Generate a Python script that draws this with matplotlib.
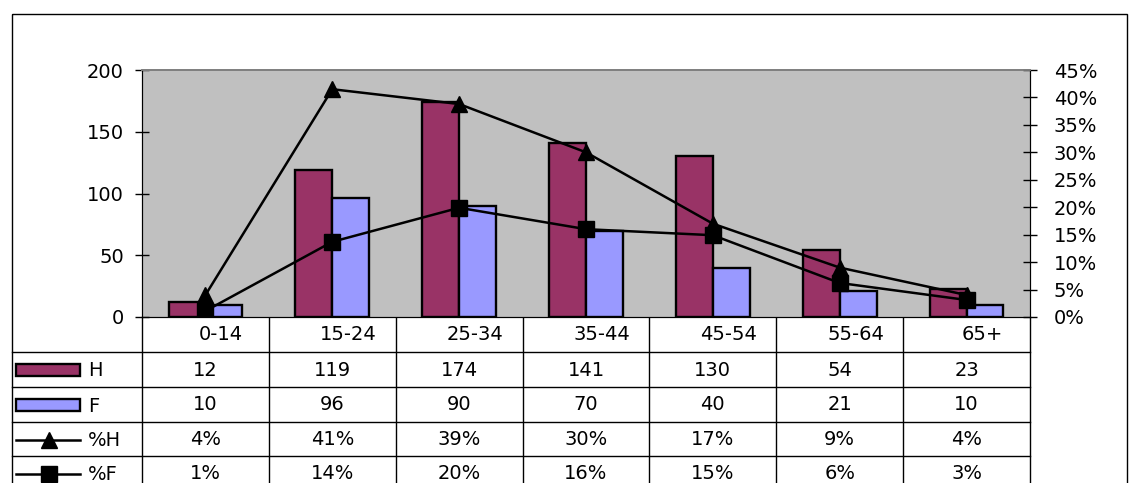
import numpy as np
import matplotlib.pyplot as plt
import matplotlib.transforms as mtransforms
from matplotlib.patches import Rectangle
from matplotlib.lines import Line2D

plt.rcParams['font.family'] = ['DejaVu Sans']

categories = ['0-14', '15-24', '25-34', '35-44', '45-54', '55-64', '65+']
h_counts = [12, 119, 174, 141, 130, 54, 23]
f_counts = [10, 96, 90, 70, 40, 21, 10]
h_pct = [0.04, 0.415, 0.388, 0.30, 0.17, 0.09, 0.04]
f_pct = [0.011, 0.137, 0.199, 0.16, 0.149, 0.062, 0.031]
h_pct_labels = ['4%', '41%', '39%', '30%', '17%', '9%', '4%']
f_pct_labels = ['1%', '14%', '20%', '16%', '15%', '6%', '3%']

maroon = '#993366'
lilac = '#9999FF'
fs = 14
tri_ms, sq_ms = 12, 11
line_w, edge_w = 1.8, 1.7

W, H = 1139, 483
fig = plt.figure(figsize=(W / 100, H / 100), dpi=100)

# pixel-space overlay for the data table
tab = fig.add_axes([0, 0, 1, 1])
tab.set_xlim(0, W)
tab.set_ylim(H, 0)
tab.axis('off')

# plot area
ax = fig.add_axes([142 / W, (H - 317) / H, 888 / W, 247 / H])
ax.set_facecolor('#C0C0C0')
x = np.arange(len(categories))
bw = 0.29
ax.bar(x - bw / 2, h_counts, bw, color=maroon, edgecolor='black', linewidth=edge_w, zorder=2)
ax.bar(x + bw / 2, f_counts, bw, color=lilac, edgecolor='black', linewidth=edge_w, zorder=2)
ax.set_xlim(-0.5, len(categories) - 0.5)
ax.set_ylim(0, 200)
ax.set_yticks(range(0, 201, 50))
ax.set_xticks([])
ax.tick_params(axis='y', direction='inout', length=10, width=1, labelsize=fs, pad=8)

ax2 = ax.twinx()
ax2.plot(x, h_pct, color='black', lw=line_w, marker='^', ms=tri_ms, zorder=3)
ax2.plot(x, f_pct, color='black', lw=line_w, marker='s', ms=sq_ms, zorder=3)
ax2.set_ylim(0, 0.45)
pct_ticks = np.arange(0, 0.451, 0.05)
ax2.set_yticks(pct_ticks)
ax2.set_yticklabels([f'{int(round(v * 100))}%' for v in pct_ticks])
ax2.tick_params(axis='y', direction='inout', length=10, width=1, labelsize=fs, pad=12)

for a in (ax, ax2):
    a.spines['top'].set_color('#808080')
    a.spines['top'].set_linewidth(1.3)
    a.spines['left'].set_color('black')
    a.spines['right'].set_color('black')
    a.spines['bottom'].set_color('black')

# data table
blend = mtransforms.blended_transform_factory(ax.transData, tab.transData)
row_lines = [352, 387, 422, 456]
row_mid = [334.5, 370, 405, 439.5, 473.5]
left, right = 12, 1030

for y in row_lines:
    tab.plot([left, right], [y, y], color='black', lw=1)
for i in range(len(categories) + 1):
    tab.plot([i - 0.5, i - 0.5], [317, H + 5], color='black', lw=1, transform=blend)

tab.add_patch(Rectangle((12, 14), 1115, 480, fill=False, edgecolor='black', lw=1))

for i, c in enumerate(categories):
    tab.text(i + 0.125, row_mid[0], c, ha='center', va='center', fontsize=fs, transform=blend)
rows = [
    [str(v) for v in h_counts],
    [str(v) for v in f_counts],
    h_pct_labels,
    f_pct_labels,
]
for r, vals in enumerate(rows):
    for i, v in enumerate(vals):
        tab.text(i, row_mid[r + 1], v, ha='center', va='center', fontsize=fs, transform=blend)

# legend keys in the label column
for r, (name, col) in enumerate([('H', maroon), ('F', lilac)]):
    yc = row_mid[r + 1]
    tab.add_patch(Rectangle((16, yc - 6), 64, 12, facecolor=col, edgecolor='black', lw=edge_w))
    tab.text(88, yc + 1, name, ha='left', va='center', fontsize=fs)
for r, (name, mk, ms) in enumerate([('%H', '^', tri_ms), ('%F', 's', sq_ms)]):
    yc = row_mid[r + 3]
    tab.add_line(Line2D([16, 80], [yc, yc], color='black', lw=line_w))
    tab.add_line(Line2D([48.5], [yc], color='black', marker=mk, ms=ms))
    tab.text(88, yc + 1, name, ha='left', va='center', fontsize=fs)

fig.savefig('out.png', dpi=100)
